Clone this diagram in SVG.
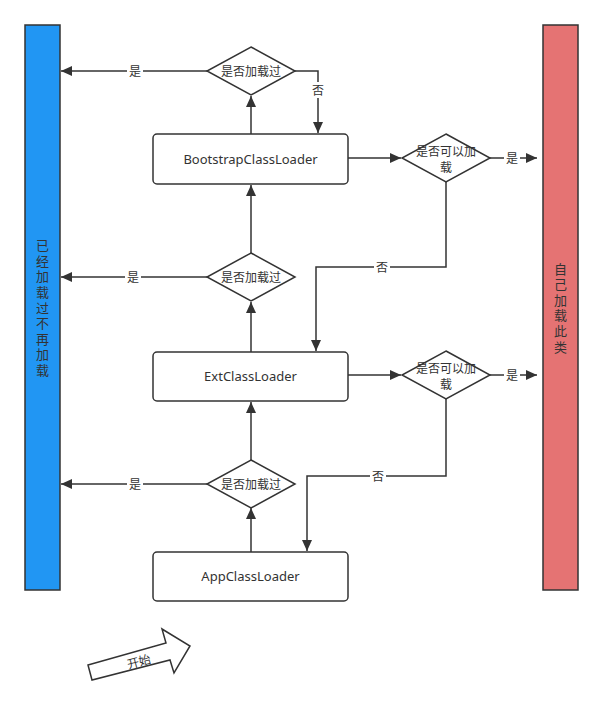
<svg xmlns="http://www.w3.org/2000/svg" width="604" height="720" viewBox="0 0 604 720">
<style>
.box{fill:#fff;stroke:#333;stroke-width:1.5}
.dia{fill:#fff;stroke:#333;stroke-width:1.5}
.ln{fill:none;stroke:#333;stroke-width:1.5;marker-end:url(#ah)}
.t{font-family:"Noto Sans","Noto Sans CJK SC",sans-serif;font-size:13px;fill:#333;text-anchor:middle}
.c{font-family:"Noto Sans CJK SC",sans-serif;font-size:12px;fill:#333;text-anchor:middle}
.v{font-family:"Noto Sans CJK SC",sans-serif;font-size:13px;fill:#333;text-anchor:middle;writing-mode:vertical-rl;letter-spacing:2.6px}
.lb{fill:#fff}
</style>
<defs>
<marker id="ah" markerUnits="userSpaceOnUse" markerWidth="12" markerHeight="10" refX="11" refY="5" orient="auto">
<path d="M0,0 L11,5 L0,10 Z" fill="#333"/>
</marker>
</defs>
<rect width="604" height="720" fill="#fff"/>

<g id="loaded-bar">
<rect x="25" y="25" width="35" height="565" fill="#2196f3" stroke="#333" stroke-width="1.5"/>
<text class="v" x="42.5" y="309">已经加载过不再加载</text>
</g>
<g id="self-bar">
<rect x="543" y="25" width="35" height="565" fill="#e57373" stroke="#333" stroke-width="1.5"/>
<text class="v" x="560.5" y="309">自己加载此类</text>
</g>

<g id="connectors">
<path class="ln" d="M251,134 L251,96"/>
<path class="ln" d="M207,71 L61,71"/>
<path class="ln" d="M295,71 L318,71 L318,133"/>
<path class="ln" d="M348,158 L401,158"/>
<path class="ln" d="M490,158 L537,158"/>
<path class="ln" d="M446,182 L446,267 L316,267 L316,351"/>
<path class="ln" d="M251,253 L251,185"/>
<path class="ln" d="M251,352 L251,302"/>
<path class="ln" d="M207,277 L61,277"/>
<path class="ln" d="M348,375 L401,375"/>
<path class="ln" d="M490,375 L537,375"/>
<path class="ln" d="M446,399 L446,476 L307,476 L307,551"/>
<path class="ln" d="M251,552 L251,508"/>
<path class="ln" d="M251,460 L251,402"/>
<path class="ln" d="M207,484 L61,484"/>
<rect class="lb" x="127" y="64" width="16" height="15"/><text class="c" x="135" y="76">是</text>
<rect class="lb" x="311" y="82" width="15" height="16"/><text class="c" x="318" y="95">否</text>
<rect class="lb" x="504" y="151" width="16" height="15"/><text class="c" x="512" y="163">是</text>
<rect class="lb" x="374" y="260" width="16" height="15"/><text class="c" x="382" y="272">否</text>
<rect class="lb" x="125" y="270" width="16" height="15"/><text class="c" x="133" y="282">是</text>
<rect class="lb" x="504" y="368" width="16" height="15"/><text class="c" x="512" y="380">是</text>
<rect class="lb" x="370" y="469" width="16" height="15"/><text class="c" x="378" y="481">否</text>
<rect class="lb" x="127" y="477" width="16" height="15"/><text class="c" x="135" y="489">是</text>
</g>

<g id="bootstrap">
<rect class="box" x="153" y="134" width="195" height="50" rx="4"/>
<text class="t" x="250.5" y="164">BootstrapClassLoader</text>
</g>
<g id="ext">
<rect class="box" x="153" y="352" width="195" height="49" rx="4"/>
<text class="t" x="250.5" y="381">ExtClassLoader</text>
</g>
<g id="app">
<rect class="box" x="153" y="552" width="195" height="49" rx="4"/>
<text class="t" x="250.5" y="581">AppClassLoader</text>
</g>

<g id="check1">
<polygon class="dia" points="251,47 295,71 251,95 207,71"/>
<text class="c" x="251" y="76">是否加载过</text>
</g>
<g id="check2">
<polygon class="dia" points="251,253 295,277 251,301 207,277"/>
<text class="c" x="251" y="282">是否加载过</text>
</g>
<g id="check3">
<polygon class="dia" points="251,460 295,484 251,508 207,484"/>
<text class="c" x="251" y="489">是否加载过</text>
</g>
<g id="can1">
<polygon class="dia" points="446,134 490,158 446,182 402,158"/>
<text class="c"><tspan x="446" y="156">是否可以加</tspan><tspan x="446" y="172">载</tspan></text>
</g>
<g id="can2">
<polygon class="dia" points="446,351 490,375 446,399 402,375"/>
<text class="c"><tspan x="446" y="373">是否可以加</tspan><tspan x="446" y="389">载</tspan></text>
</g>

<g id="start">
<polygon points="88,665 166,643 162,629 190,646 174,673 170,660 92,680" fill="#fff" stroke="#333" stroke-width="1.5"/>
<text class="c" transform="translate(140,666) rotate(-15)" x="0" y="0">开始</text>
</g>
</svg>
